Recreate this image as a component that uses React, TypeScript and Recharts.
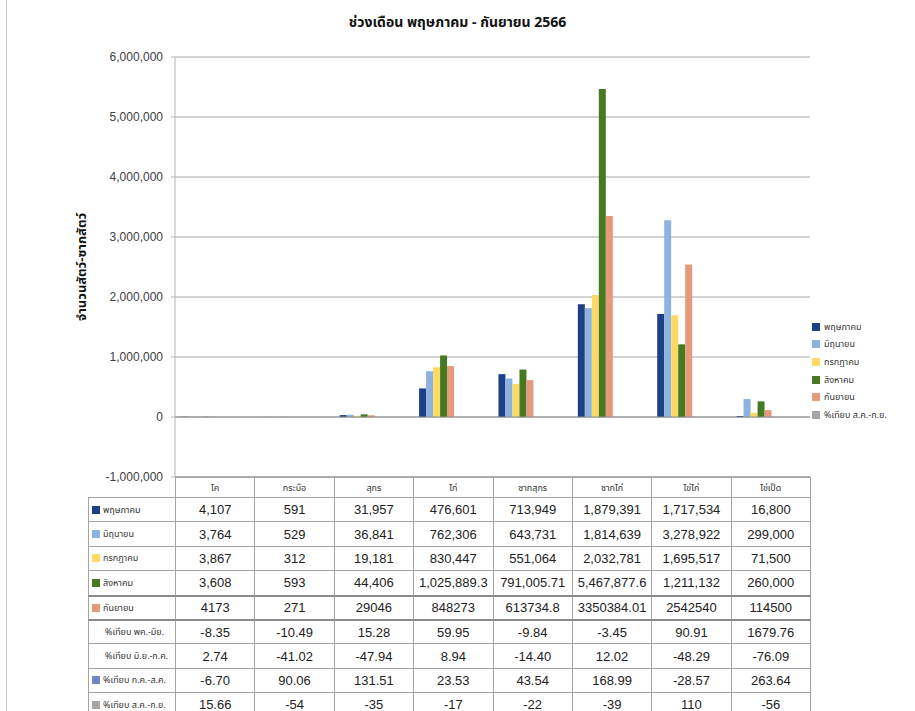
import React from "react";
import { BarChart, Bar, XAxis, YAxis, CartesianGrid, ReferenceLine, Legend } from "recharts";

const categories = ["โค", "กระบือ", "สุกร", "ไก่", "ซากสุกร", "ซากไก่", "ไข่ไก่", "ไข่เป็ด"];

const may = [4107, 591, 31957, 476601, 713949, 1879391, 1717534, 16800];
const jun = [3764, 529, 36841, 762306, 643731, 1814639, 3278922, 299000];
const jul = [3867, 312, 19181, 830447, 551064, 2032781, 1695517, 71500];
const aug = [3608, 593, 44406, 1025889.3, 791005.71, 5467877.6, 1211132, 260000];
const sep = [4173, 271, 29046, 848273, 613734.8, 3350384.01, 2542540, 114500];
const pctMayJun = [-8.35, -10.49, 15.28, 59.95, -9.84, -3.45, 90.91, 1679.76];
const pctJunJul = [2.74, -41.02, -47.94, 8.94, -14.4, 12.02, -48.29, -76.09];
const pctJulAug = [-6.7, 90.06, 131.51, 23.53, 43.54, 168.99, -28.57, 263.64];
const pctAugSep = [15.66, -54, -35, -17, -22, -39, 110, -56];

const yTicks = [-1000000, 0, 1000000, 2000000, 3000000, 4000000, 5000000, 6000000];

type Fmt = "comma" | "plain" | "fixed";

const series: { key: string; name: string; values: number[]; color: string; legend: boolean; marker: boolean; fmt: Fmt }[] = [
  { key: "may", name: "พฤษภาคม", values: may, color: "#1f3f86", legend: true, marker: true, fmt: "comma" },
  { key: "jun", name: "มิถุนายน", values: jun, color: "#8db4e0", legend: true, marker: true, fmt: "comma" },
  { key: "jul", name: "กรกฎาคม", values: jul, color: "#ffd966", legend: true, marker: true, fmt: "comma" },
  { key: "aug", name: "สิงหาคม", values: aug, color: "#467a22", legend: true, marker: true, fmt: "comma" },
  { key: "sep", name: "กันยายน", values: sep, color: "#e59a7c", legend: true, marker: true, fmt: "plain" },
  { key: "p1", name: "%เทียบ พค.-มิย.", values: pctMayJun, color: "transparent", legend: false, marker: false, fmt: "fixed" },
  { key: "p2", name: "%เทียบ มิ.ย.-ก.ค.", values: pctJunJul, color: "transparent", legend: false, marker: false, fmt: "fixed" },
  { key: "p3", name: "%เทียบ ก.ค.-ส.ค.", values: pctJulAug, color: "#7386c4", legend: false, marker: true, fmt: "fixed" },
  { key: "p4", name: "%เทียบ ส.ค.-ก.ย.", values: pctAugSep, color: "#a6a6a6", legend: true, marker: true, fmt: "plain" },
];

const data = categories.map((name, i) => {
  const row: Record<string, string | number> = { name };
  series.forEach((s) => (row[s.key] = s.values[i]));
  return row;
});

const fmtValue = (v: number, f: Fmt) => {
  if (f === "comma") return v.toLocaleString("en-US", { maximumFractionDigits: 2 });
  if (f === "fixed") return v.toFixed(2);
  return String(v);
};

const thai = "'Noto Sans Thai', 'Noto Sans', sans-serif";
const num = "'Liberation Sans', Arial, sans-serif";

// plot geometry
const chartH = 495;
const plotLeft = 175;
const plotRight = 810;
const plotTop = 57;
const plotBottom = 477;
const colW = (plotRight - plotLeft) / categories.length;
const labelX = 88;
const headerH = 20;
const rowH = 24.4;
const border = "1px solid #a3a3a3";

// legend order follows the series order, hidden series left out
function LegendBox() {
  return (
    <div style={{ fontFamily: thai, fontSize: 9, color: "#333" }}>
      {series
        .filter((s) => s.legend)
        .map((s) => (
          <div key={s.key} style={{ display: "flex", alignItems: "center", height: 17.6 }}>
            <span style={{ width: 8, height: 8, background: s.color, marginRight: 4, display: "inline-block" }} />
            <span>{s.name}</span>
          </div>
        ))}
    </div>
  );
}

export default function App() {
  const cells: React.ReactNode[] = [];
  categories.forEach((c, i) => {
    cells.push(
      <div
        key={"h" + i}
        style={{
          position: "absolute",
          left: plotLeft + i * colW,
          top: plotBottom,
          width: colW + 1,
          height: headerH + 1,
          border,
          boxSizing: "border-box",
          display: "flex",
          alignItems: "center",
          justifyContent: "center",
          fontFamily: thai,
          fontSize: 9,
          color: "#333",
        }}
      >
        {c}
      </div>
    );
  });
  series.forEach((s, r) => {
    const top = plotBottom + headerH + r * rowH;
    const thick = r === 4 || r === 5 ? "2px solid #8a8a8a" : border;
    cells.push(
      <div
        key={"l" + r}
        style={{
          position: "absolute",
          left: labelX,
          top,
          width: plotLeft - labelX + 1,
          height: rowH + 1,
          border,
          borderTop: thick,
          boxSizing: "border-box",
          display: "flex",
          alignItems: "center",
          paddingLeft: s.marker ? 3 : 16,
          fontFamily: thai,
          fontSize: 9,
          color: "#333",
          whiteSpace: "nowrap",
          overflow: "hidden",
        }}
      >
        {s.marker && (
          <span style={{ width: 8, height: 8, background: s.color, marginRight: 3, display: "inline-block" }} />
        )}
        {s.name}
      </div>
    );
    s.values.forEach((v, i) => {
      cells.push(
        <div
          key={"c" + r + "-" + i}
          style={{
            position: "absolute",
            left: plotLeft + i * colW,
            top,
            width: colW + 1,
            height: rowH + 1,
            border,
            borderTop: thick,
            boxSizing: "border-box",
            display: "flex",
            alignItems: "center",
            justifyContent: "center",
            fontFamily: num,
            fontSize: 13,
            color: "#222",
          }}
        >
          {fmtValue(v, s.fmt)}
        </div>
      );
    });
  });

  return (
    <div style={{ position: "absolute", left: 0, top: 0, width: 915, height: 711, overflow: "hidden", background: "#fff" }}>
      <div style={{ position: "absolute", left: 6, top: 0, width: 1, height: 711, background: "#d0d0d0" }} />
      <div
        style={{
          position: "absolute",
          left: 0,
          width: 915,
          top: 12,
          textAlign: "center",
          fontFamily: thai,
          fontWeight: "bold",
          fontSize: 14,
          color: "#111",
        }}
      >
        ช่วงเดือน พฤษภาคม - กันยายน 2566
      </div>
      <div
        style={{
          position: "absolute",
          left: 82,
          top: 267,
          transform: "translate(-50%, -50%) rotate(-90deg)",
          fontFamily: thai,
          fontWeight: "bold",
          fontSize: 13,
          color: "#111",
          whiteSpace: "nowrap",
        }}
      >
        จำนวนสัตว์-ซากสัตว์
      </div>
      <div style={{ position: "absolute", left: 0, top: 0 }}>
        <BarChart
          width={915}
          height={chartH}
          data={data}
          margin={{ top: plotTop, right: 915 - plotRight, bottom: chartH - plotBottom, left: plotLeft - 70 }}
          barCategoryGap="7.5%"
          barGap={0}
        >
          <CartesianGrid horizontal vertical={false} stroke="#c4c4c4" strokeWidth={1.5} />
          <XAxis dataKey="name" hide />
          <YAxis
            width={70}
            domain={[-1000000, 6000000]}
            ticks={yTicks}
            interval={0}
            tickFormatter={(v: number) => v.toLocaleString("en-US")}
            tick={{ fontFamily: num, fontSize: 12, fill: "#404040" }}
            tickSize={4}
            tickMargin={8}
            axisLine={{ stroke: "#b5b5b5" }}
            tickLine={{ stroke: "#b5b5b5" }}
          />
          <ReferenceLine y={0} stroke="#8c8c8c" />
          <ReferenceLine y={-1000000} stroke="#8c8c8c" />
          {series.map((s) => (
            <Bar
              key={s.key}
              dataKey={s.key}
              name={s.name}
              fill={s.color}
              legendType={s.legend ? "square" : "none"}
              isAnimationActive={false}
            />
          ))}
          <Legend
            layout="vertical"
            align="center"
            verticalAlign="middle"
            content={<LegendBox />}
            wrapperStyle={{ position: "absolute", left: 812, top: 318, width: 100 }}
          />
        </BarChart>
      </div>
      {cells}
    </div>
  );
}
